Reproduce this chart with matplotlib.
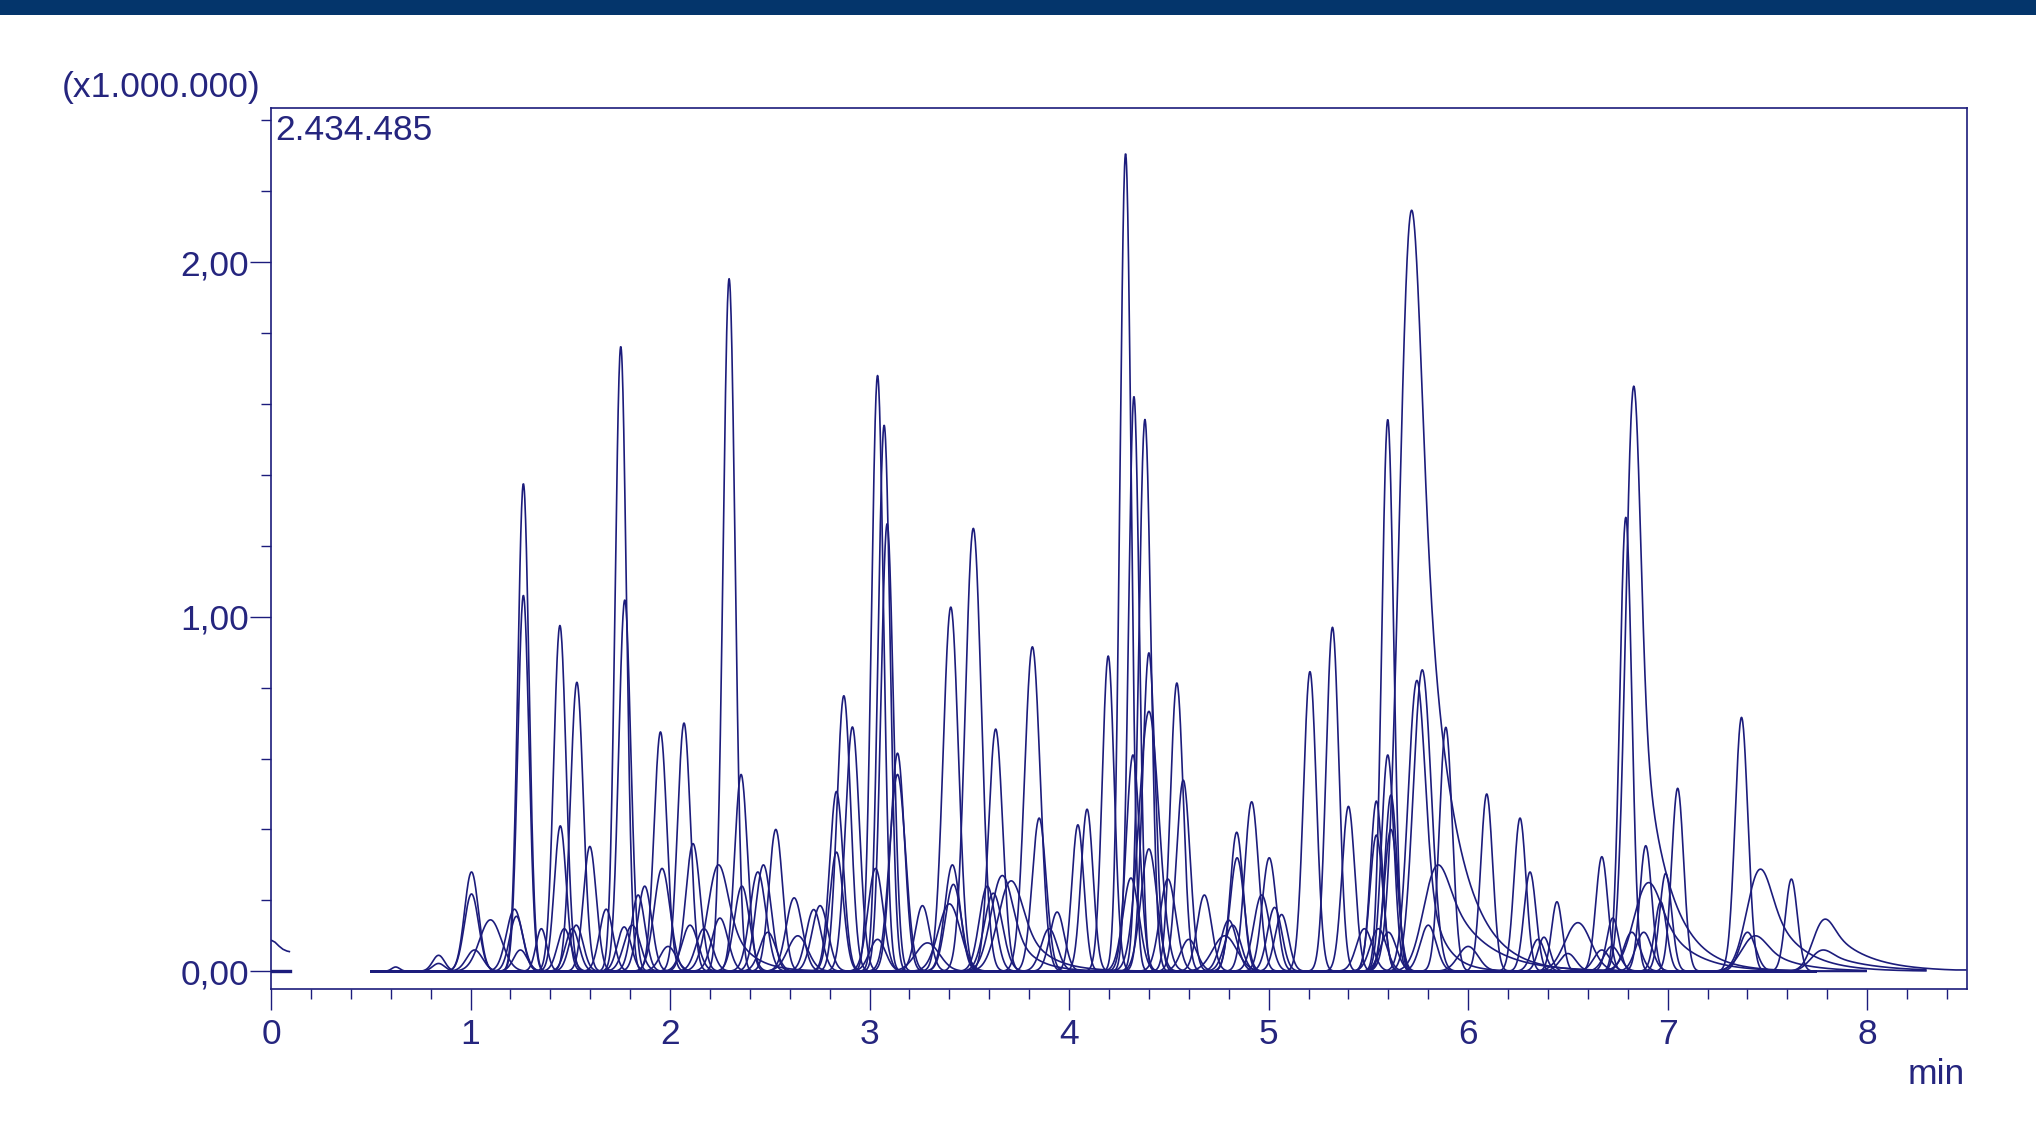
import numpy as np
import matplotlib
matplotlib.use("Agg")
import matplotlib.pyplot as plt
from matplotlib.patches import Rectangle
from matplotlib.ticker import MultipleLocator, FuncFormatter

# MRM chromatogram, intensities in units of 1.000.000 counts
Y_MAX = 2.434485
RUN_START = 0.5
RUN_END = 7.75

# symmetric peaks: retention time (min), height, sigma (min)
peak_rt = [
    0.625, 0.84, 0.84, 1.005, 1.005, 1.02, 1.10, 1.22, 1.23, 1.25,
    1.265, 1.265, 1.355, 1.448, 1.45, 1.47, 1.51, 1.533, 1.53, 1.598,
    1.68, 1.753, 1.773, 1.77, 1.81, 1.84, 1.873, 1.952, 1.96, 1.99,
    2.07, 2.10, 2.115, 2.17, 2.25, 2.296, 2.356, 2.36, 2.44, 2.468,
    2.49, 2.53, 2.622, 2.64, 2.72, 2.752, 2.834, 2.834, 2.871, 2.914,
    3.03, 3.04, 3.04, 3.073, 3.088, 3.14, 3.14, 3.265, 3.29, 3.407,
    3.415, 3.42, 3.40, 3.52, 3.59, 3.62, 3.632, 3.816, 3.85, 3.90,
    3.94, 4.044, 4.09, 4.196, 4.283, 4.31, 4.32, 4.325, 4.38, 4.40,
    4.40, 4.40, 4.495, 4.54, 4.572, 4.60, 4.678, 4.78, 4.80, 4.82,
    4.84, 4.842, 4.915, 4.965, 5.003, 5.03, 5.065, 5.207, 5.32, 5.40,
    5.48, 5.54, 5.54, 5.55, 5.597, 5.597, 5.613, 5.613, 5.60, 5.77,
    5.80, 5.888, 6.0, 6.093, 6.26, 6.31, 6.35, 6.38, 6.445, 6.50,
    6.55, 6.67, 6.67, 6.72, 6.725, 6.79, 6.82, 6.88, 6.89, 6.965,
    6.99, 7.05,
]
peak_height = [
    0.012, 0.045, 0.022, 0.28, 0.218, 0.06, 0.145, 0.175, 0.155, 0.06,
    1.375, 1.06, 0.12, 0.975, 0.41, 0.12, 0.12, 0.815, 0.13, 0.352,
    0.175, 1.762, 1.047, 0.125, 0.13, 0.215, 0.24, 0.675, 0.29, 0.07,
    0.70, 0.13, 0.36, 0.12, 0.15, 1.953, 0.555, 0.24, 0.28, 0.30,
    0.11, 0.40, 0.207, 0.10, 0.174, 0.185, 0.507, 0.336, 0.777, 0.689,
    0.29, 0.09, 1.68, 1.54, 1.262, 0.615, 0.555, 0.185, 0.08, 1.027,
    0.30, 0.245, 0.19, 1.249, 0.24, 0.22, 0.683, 0.915, 0.432, 0.12,
    0.167, 0.413, 0.457, 0.889, 2.306, 0.263, 0.61, 1.621, 1.556, 0.898,
    0.733, 0.345, 0.26, 0.813, 0.539, 0.09, 0.215, 0.10, 0.144, 0.13,
    0.392, 0.32, 0.478, 0.215, 0.32, 0.18, 0.16, 0.845, 0.97, 0.465,
    0.12, 0.48, 0.384, 0.12, 1.556, 0.61, 0.497, 0.40, 0.11, 0.85,
    0.13, 0.688, 0.07, 0.50, 0.432, 0.28, 0.09, 0.096, 0.196, 0.05,
    0.137, 0.323, 0.06, 0.07, 0.15, 1.28, 0.11, 0.11, 0.354, 0.196,
    0.276, 0.516,
]
peak_sigma = [
    0.02, 0.03, 0.03, 0.035, 0.036, 0.04, 0.055, 0.04, 0.034, 0.034,
    0.028, 0.028, 0.027, 0.031, 0.03, 0.034, 0.034, 0.032, 0.034, 0.032,
    0.034, 0.028, 0.03, 0.034, 0.04, 0.034, 0.035, 0.032, 0.04, 0.04,
    0.032, 0.04, 0.036, 0.04, 0.04, 0.03, 0.032, 0.038, 0.04, 0.038,
    0.04, 0.034, 0.04, 0.05, 0.038, 0.04, 0.034, 0.034, 0.034, 0.035,
    0.038, 0.04, 0.03, 0.03, 0.031, 0.035, 0.04, 0.036, 0.06, 0.038,
    0.038, 0.04, 0.055, 0.04, 0.04, 0.045, 0.035, 0.039, 0.035, 0.04,
    0.036, 0.03, 0.03, 0.03, 0.028, 0.04, 0.034, 0.027, 0.03, 0.032,
    0.05, 0.04, 0.04, 0.032, 0.034, 0.04, 0.036, 0.06, 0.04, 0.04,
    0.032, 0.035, 0.035, 0.04, 0.035, 0.036, 0.034, 0.032, 0.032, 0.032,
    0.04, 0.03, 0.032, 0.04, 0.03, 0.031, 0.031, 0.034, 0.04, 0.045,
    0.04, 0.032, 0.05, 0.03, 0.03, 0.03, 0.034, 0.03, 0.027, 0.04,
    0.065, 0.03, 0.04, 0.04, 0.03, 0.03, 0.04, 0.04, 0.03, 0.03,
    0.03, 0.03,
]

# late eluting peaks whose traces run longer
late_rt = [7.37, 7.40, 7.62]
late_height = [0.716, 0.11, 0.26]
late_sigma = [0.032, 0.04, 0.03]
late_end = [8.0, 8.0, 8.0]

# tailing peaks: exponential tail constant (min) and tail fraction
tail_rt = [2.243, 3.665, 3.71, 5.717, 5.743, 5.85, 6.83, 6.905, 7.44, 7.465, 7.78, 7.79]
tail_height = [0.30, 0.27, 0.255, 2.146, 0.82, 0.30, 1.65, 0.25, 0.10, 0.288, 0.06, 0.147]
tail_sigma = [0.045, 0.05, 0.055, 0.048, 0.04, 0.055, 0.034, 0.06, 0.055, 0.055, 0.045, 0.045]
tail_tau = [0.10, 0.10, 0.12, 0.14, 0.08, 0.18, 0.13, 0.15, 0.15, 0.15, 0.20, 0.18]
tail_frac = [0.6, 0.5, 0.6, 0.75, 0.4, 0.8, 0.5, 0.7, 0.7, 0.7, 0.8, 0.8]
tail_end = [7.75, 7.75, 7.75, 7.75, 7.75, 7.75, 7.75, 7.75, 8.0, 8.3, 8.3, 8.5]

# short separate segment at the very start of the run
pre_t = [0.0, 0.02, 0.04, 0.06, 0.08, 0.096]
pre_y = [0.088, 0.082, 0.071, 0.062, 0.057, 0.055]

NAVY = "#1c1c7c"
TEXT = "#25257e"
BANNER = "#04356b"
FONT_SIZE = 25.5

plt.rcParams["font.family"] = ["Liberation Sans", "DejaVu Sans"]

dt = 0.002
t = np.arange(RUN_START, 8.5 + dt / 2, dt)


def peak_shape(rt, height, sigma, tau=0.0, frac=0.0):
    """Gaussian peak, optionally blended with an exponentially tailed copy."""
    g = np.exp(-0.5 * ((t - rt) / sigma) ** 2)
    if tau <= 0 or frac <= 0:
        return height * g
    kernel = np.exp(-np.arange(0, 8 * tau, dt) / tau)
    emg = np.convolve(g, kernel)[: t.size]
    emg /= emg.max()
    shift = t[np.argmax(emg)] - rt
    emg = np.interp(t + shift, t, emg, right=emg[-1])  # keep apex at rt
    y = (1 - frac) * g + frac * emg
    return height * y / y.max()


fig = plt.figure(figsize=(20.36, 11.25), dpi=100)
fig.patches.append(
    Rectangle((0, 1 - 15 / 1125), 1, 15 / 1125, transform=fig.transFigure,
              facecolor=BANNER, edgecolor="none")
)
ax = fig.add_axes([0.1331, 0.1209, 0.8330, 0.7831])

line_kw = dict(color=NAVY, linewidth=1.2, solid_capstyle="butt")

for rt, h, s in zip(peak_rt, peak_height, peak_sigma):
    keep = t <= RUN_END
    ax.plot(t[keep], peak_shape(rt, h, s)[keep], **line_kw)

for rt, h, s, end in zip(late_rt, late_height, late_sigma, late_end):
    keep = t <= end
    ax.plot(t[keep], peak_shape(rt, h, s)[keep], **line_kw)

for rt, h, s, tau, f, end in zip(tail_rt, tail_height, tail_sigma, tail_tau, tail_frac, tail_end):
    keep = t <= end
    ax.plot(t[keep], peak_shape(rt, h, s, tau, f)[keep], **line_kw)

ax.plot(pre_t, pre_y, **line_kw)
ax.plot([pre_t[0], pre_t[-1]], [0, 0], color=NAVY, linewidth=2.4)

ax.set_xlim(0, 8.5)
ax.set_ylim(-0.05, Y_MAX)

ax.xaxis.set_major_locator(MultipleLocator(1))
ax.xaxis.set_minor_locator(MultipleLocator(0.2))
ax.yaxis.set_major_locator(MultipleLocator(1))
ax.yaxis.set_minor_locator(MultipleLocator(0.2))
ax.yaxis.set_major_formatter(FuncFormatter(lambda v, _: f"{v:.2f}".replace(".", ",")))
ax.xaxis.set_major_formatter(FuncFormatter(lambda v, _: f"{v:.0f}"))

for side in ax.spines.values():
    side.set_color(NAVY)
    side.set_linewidth(1.2)

ax.tick_params(which="both", direction="out", color=NAVY, width=1.0,
               labelcolor=TEXT, labelsize=FONT_SIZE)
ax.tick_params(axis="x", which="major", length=15, pad=6)
ax.tick_params(axis="x", which="minor", length=7)
ax.tick_params(axis="y", which="major", length=15, pad=1)
ax.tick_params(axis="y", which="minor", length=7)

ax.text(0.0025, 0.975, "2.434.485", transform=ax.transAxes, ha="left", va="center",
        fontsize=FONT_SIZE, color=TEXT)
fig.text(62 / 2036, 1 - 88 / 1125, "(x1.000.000)", ha="left", va="center",
         fontsize=FONT_SIZE, color=TEXT)
fig.text(1965 / 2036, 1 - 1075 / 1125, "min", ha="right", va="center",
         fontsize=FONT_SIZE, color=TEXT)

fig.savefig("out.png", dpi=100, facecolor="white")
